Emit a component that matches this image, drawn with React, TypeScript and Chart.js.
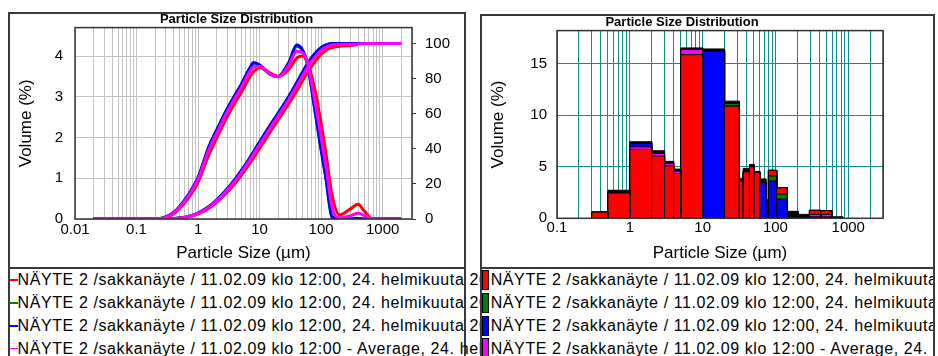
import React, { useEffect, useRef } from 'react';
import { Chart, registerables } from 'chart.js';

Chart.register(...registerables);

const FONT = '"Liberation Sans", Arial, Helvetica, sans-serif';

// ---- Distribution curves (left chart) ----
// particle sizes (µm) where the curves are sampled
const sizes = [0.02, 0.05, 0.1, 0.2, 0.3, 0.4, 0.5, 0.7, 1, 1.5, 2, 3, 4, 5, 7, 8, 10, 15, 20, 30, 40, 50, 60, 80, 100, 120, 150, 200, 300, 400, 500, 700, 1000, 2000];

// volume density (%), left axis
const redDensity = [0, 0, 0, 0, 0.03, 0.13, 0.26, 0.52, 0.9, 1.58, 1.98, 2.52, 2.86, 3.1, 3.5, 3.62, 3.72, 3.58, 3.5, 3.68, 3.95, 4.0, 3.85, 3.15, 2.35, 1.6, 0.6, 0.1, 0.25, 0.36, 0.2, 0, 0, 0];
const greenDensity = [0, 0, 0, 0, 0.05, 0.16, 0.3, 0.6, 1.01, 1.76, 2.16, 2.7, 3.03, 3.28, 3.7, 3.83, 3.78, 3.56, 3.5, 3.84, 4.24, 4.13, 3.8, 2.66, 1.72, 1.0, 0.06, 0, 0, 0.01, 0, 0, 0, 0];
const blueDensity = [0, 0, 0, 0, 0.05, 0.16, 0.3, 0.6, 1.02, 1.78, 2.18, 2.72, 3.05, 3.3, 3.72, 3.84, 3.78, 3.55, 3.5, 3.85, 4.27, 4.15, 3.8, 2.62, 1.7, 0.99, 0.05, 0, 0, 0.01, 0, 0, 0, 0];
const magentaDensity = [0, 0, 0, 0, 0.04, 0.15, 0.28, 0.57, 0.98, 1.7, 2.1, 2.64, 2.98, 3.22, 3.63, 3.74, 3.75, 3.56, 3.49, 3.78, 4.12, 4.08, 3.83, 2.85, 2.0, 1.28, 0.3, 0.03, 0.08, 0.14, 0.09, 0, 0, 0];

// cumulative volume (%), right axis
const redCumulative = [0, 0, 0, 0, 0, 0.15, 0.43, 1.28, 2.92, 6.17, 9.48, 15.38, 20.39, 24.7, 31.88, 34.95, 40.25, 49.82, 56.42, 65.83, 72.93, 78.68, 83.3, 89.81, 93.79, 96.11, 97.7, 98.35, 98.81, 99.38, null, null, null, null];
const greenCumulative = [0, 0, 0, 0, 0, 0.2, 0.52, 1.5, 3.38, 7.05, 10.75, 17.2, 22.6, 27.2, 34.9, 38.2, 43.7, 53.4, 60.0, 69.7, 77.3, 83.4, 88.2, 94.3, 97.5, 99.1, 99.9, 100, 100, 100, 100, 100, 100, 100];
const blueCumulative = [0, 0, 0, 0, 0, 0.2, 0.53, 1.52, 3.41, 7.11, 10.83, 17.3, 22.72, 27.35, 35.05, 38.34, 43.89, 53.58, 60.2, 69.92, 77.54, 83.68, 88.39, 94.42, 97.57, 99.17, 99.92, 99.97, 100, 100, 100, 100, 100, 100];
const magentaCumulative = [0, 0, 0, 0, 0, 0.18, 0.49, 1.42, 3.22, 6.75, 10.3, 16.54, 21.8, 26.3, 33.8, 37.0, 42.4, 52.0, 58.6, 68.2, 75.6, 81.6, 86.2, 92.5, 96.0, 97.9, 99.1, 99.4, 99.5, 99.7, 99.9, 100, 100, 100];

// ---- Histogram (right chart) ----
// size class edges (µm)
const binEdges = [0.3, 0.5, 1, 2, 3, 4, 5, 10, 20, 32, 36, 44, 51, 61, 74, 80, 104, 146, 206, 292, 419, 593, 840];
// volume (%) in each class
const histRed = [0.6, 2.45, 6.68, 6.03, 5.09, 4.35, 15.87, 16.22, 10.87, 3.64, 4.51, 5.0, 4.45, 3.47, 1.77, 4.65, 2.96, 0.05, 0.03, 0.78, 0.75, 0.03];
const histGreen = [0.6, 2.45, 6.68, 6.03, 5.09, 4.35, 15.87, 16.22, 11.13, 3.64, 4.51, 5.0, 4.45, 3.47, 1.77, 4.1, 2.35, 0.05, 0.03, 0.12, 0.12, 0.03];
const histBlue = [0.6, 2.45, 7.26, 6.29, 5.32, 4.58, 16.36, 16.2, 10.87, 3.64, 4.51, 5.0, 4.45, 3.45, 1.75, 3.62, 1.87, 0.05, 0.03, 0.12, 0.12, 0.03];
const histMagenta = [0.6, 2.45, 6.93, 6.29, 5.32, 4.58, 16.36, 16.22, 10.87, 3.64, 4.51, 5.0, 4.45, 3.47, 1.77, 4.65, 2.96, 0.05, 0.03, 0.38, 0.38, 0.03];
const histBlack = [0.6, 2.72, 7.42, 6.55, 5.52, 4.77, 16.52, 16.42, 11.36, 3.87, 4.84, 5.23, 4.55, 3.82, 1.77, 4.65, 2.96, 0.68, 0.38, 0.78, 0.75, 0.15];

// ---- Axes ----
const leftDecades = [0.01, 0.1, 1, 10, 100, 1000];
const rightDecades = [0.1, 1, 10, 100, 1000];
const sizeMax = 3000;
const densityTicks = [0, 1, 2, 3, 4];
const cumulativeTicks = [0, 20, 40, 60, 80, 100];
const histTicks = [0, 5, 10, 15];

// ---- Legend ----
const runLabels = [
  'NÄYTE 2 /sakkanäyte / 11.02.09 klo 12:00, 24. helmikuuta 2009 13:21:07',
  'NÄYTE 2 /sakkanäyte / 11.02.09 klo 12:00, 24. helmikuuta 2009 13:22:38',
  'NÄYTE 2 /sakkanäyte / 11.02.09 klo 12:00, 24. helmikuuta 2009 13:24:09',
  'NÄYTE 2 /sakkanäyte / 11.02.09 klo 12:00 - Average, 24. helmikuuta 2009 13:21:07',
];
const RED = '#ff0000';
const GREEN = '#008000';
const BLUE = '#0000ff';
const MAGENTA = '#ff00ff';
const runColors = [RED, GREEN, BLUE, MAGENTA];

// 1..9 x each decade, up to the axis maximum
function logGrid(decades: number[], max: number) {
  const out: number[] = [];
  for (const d of decades) {
    for (let m = 1; m <= 9; m++) {
      const v = +(d * m).toPrecision(6);
      if (v <= max) out.push(v);
    }
  }
  return out;
}

const setTicks = (values: number[]) => (scale: any) => {
  scale.ticks = values.map((value) => ({ value }));
};

// fixed axis size; edge labels must not push the plot area inwards
const fixSize = (key: 'width' | 'height', size: number) => (s: any) => {
  s[key] = size;
  s.paddingTop = 0;
  s.paddingBottom = 0;
  s.paddingLeft = 0;
  s.paddingRight = 0;
};

const framePlugin = (color: string) => ({
  id: 'plotFrame',
  afterDatasetsDraw(chart: any) {
    const { ctx, chartArea: a } = chart;
    ctx.save();
    ctx.strokeStyle = color;
    ctx.lineWidth = 1.5;
    ctx.strokeRect(a.left, a.top, a.right - a.left, a.bottom - a.top);
    ctx.restore();
  },
});

const tickFont = { family: FONT, size: 15 };
const axisTitleFont = { family: FONT, size: 17 };
const chartTitle = {
  display: true,
  text: 'Particle Size Distribution',
  color: '#000',
  font: { family: FONT, size: 13, weight: 'bold' as const },
  padding: { top: 0, bottom: 0 },
};

function curve(values: (number | null)[], color: string, axis: string, order: number) {
  return {
    data: sizes.map((x, i) => ({ x, y: values[i] })),
    borderColor: color,
    backgroundColor: color,
    borderWidth: 3,
    pointRadius: 0,
    yAxisID: axis,
    order,
    fill: false,
    spanGaps: false,
    cubicInterpolationMode: 'monotone' as const,
  };
}

function leftConfig(): any {
  const xTicks = logGrid(leftDecades, sizeMax);
  return {
    type: 'line',
    data: {
      datasets: [
        curve(magentaDensity, MAGENTA, 'y', 0),
        curve(magentaCumulative, MAGENTA, 'y2', 0),
        curve(redDensity, RED, 'y', 1),
        curve(redCumulative, RED, 'y2', 1),
        curve(blueDensity, BLUE, 'y', 2),
        curve(blueCumulative, BLUE, 'y2', 2),
        curve(greenDensity, GREEN, 'y', 3),
        curve(greenCumulative, GREEN, 'y2', 3),
      ],
    },
    options: {
      responsive: false,
      animation: false,
      events: [],
      layout: { padding: 0 },
      plugins: { legend: { display: false }, tooltip: { enabled: false }, title: chartTitle },
      scales: {
        x: {
          type: 'logarithmic',
          min: 0.01,
          max: sizeMax,
          afterBuildTicks: setTicks(xTicks),
          afterFit: fixSize('height', 49),
          border: { display: false },
          grid: { color: '#c2c2c2', drawTicks: false },
          ticks: {
            autoSkip: false, maxRotation: 0, padding: 2, color: '#000', font: tickFont,
            callback: (v: number) => (leftDecades.includes(v) ? String(v) : ''),
          },
          title: { display: true, text: 'Particle Size (µm)', color: '#000', font: axisTitleFont, padding: { top: 0, bottom: 4.8 } },
        },
        y: {
          position: 'left',
          min: 0,
          max: 4.7,
          afterBuildTicks: setTicks(densityTicks),
          afterFit: fixSize('width', 67),
          border: { display: false },
          grid: { color: '#c2c2c2', drawTicks: false },
          ticks: { padding: 12, color: '#000', font: tickFont, callback: (v: number) => String(v) },
          title: { display: true, text: 'Volume (%)', color: '#000', font: axisTitleFont, padding: { top: 8.5, bottom: 0 } },
        },
        y2: {
          position: 'right',
          min: 0,
          max: 109,
          afterBuildTicks: setTicks(cumulativeTicks),
          afterFit: fixSize('width', 53),
          border: { display: false },
          grid: { drawOnChartArea: false, drawTicks: true, tickLength: 4, color: '#333' },
          ticks: { padding: 9, color: '#000', font: tickFont, callback: (v: number) => String(v) },
        },
      },
    },
    plugins: [framePlugin('#333')],
  };
}

function rightConfig(): any {
  const xTicks = logGrid(rightDecades, sizeMax);
  // equal heights: earlier entries are drawn in front
  const series = [
    { values: histRed, color: RED },
    { values: histMagenta, color: MAGENTA },
    { values: histBlue, color: BLUE },
    { values: histGreen, color: GREEN },
    { values: histBlack, color: '#000000' },
  ];
  const datasets: any[] = [];
  binEdges.slice(0, -1).forEach((lo, i) => {
    const hi = binEdges[i + 1];
    series.forEach((s, p) => {
      const v = s.values[i];
      datasets.push({
        data: [{ x: lo, y: 0 }, { x: lo, y: v }, { x: hi, y: v }, { x: hi, y: 0 }],
        backgroundColor: s.color,
        borderColor: '#000',
        borderWidth: 1,
        fill: 'origin',
        pointRadius: 0,
        tension: 0,
        // taller classes go behind shorter ones
        order: v * 1000 + p,
      });
    });
  });
  return {
    type: 'line',
    data: { datasets },
    options: {
      responsive: false,
      animation: false,
      events: [],
      layout: { padding: { left: 0, right: 51, top: 0, bottom: 0 } },
      plugins: { legend: { display: false }, tooltip: { enabled: false }, title: chartTitle },
      scales: {
        x: {
          type: 'logarithmic',
          min: 0.1,
          max: sizeMax,
          afterBuildTicks: setTicks(xTicks),
          afterFit: fixSize('height', 48.7),
          border: { display: false },
          grid: { color: '#0f8f8f', drawTicks: false },
          ticks: {
            autoSkip: false, maxRotation: 0, padding: 1, color: '#000', font: tickFont,
            callback: (v: number) => (rightDecades.includes(v) ? String(v) : ''),
          },
          title: { display: true, text: 'Particle Size (µm)', color: '#000', font: axisTitleFont, padding: { top: 0, bottom: 3.8 } },
        },
        y: {
          position: 'left',
          min: 0,
          max: 18.2,
          afterBuildTicks: setTicks(histTicks),
          afterFit: fixSize('width', 76),
          border: { display: false },
          grid: { color: '#0f8f8f', drawTicks: false },
          ticks: { padding: 10, color: '#000', font: tickFont, callback: (v: number) => String(v) },
          title: { display: true, text: 'Volume (%)', color: '#000', font: axisTitleFont, padding: { top: 6.8, bottom: 0 } },
        },
      },
    },
    plugins: [framePlugin('#333')],
  };
}

const abs = (s: React.CSSProperties): React.CSSProperties => ({ position: 'absolute', ...s });
const legendText: React.CSSProperties = {
  fontFamily: FONT,
  fontSize: 16,
  letterSpacing: '0.6px',
  lineHeight: '22.8px',
  whiteSpace: 'nowrap',
  color: '#000',
};

export default function App() {
  const leftRef = useRef<HTMLCanvasElement>(null);
  const rightRef = useRef<HTMLCanvasElement>(null);

  useEffect(() => {
    const left = new Chart(leftRef.current as HTMLCanvasElement, leftConfig());
    const right = new Chart(rightRef.current as HTMLCanvasElement, rightConfig());
    return () => {
      left.destroy();
      right.destroy();
    };
  }, []);

  return (
    <div style={abs({ left: 0, top: 0, width: 938, height: 356, overflow: 'hidden', background: '#fff' })}>
      {/* left panel */}
      <div style={abs({ left: 8, top: 12, width: 458, height: 380, border: '2px solid #3a3a3a', boxSizing: 'border-box' })} />
      <div style={abs({ left: 8, top: 267, width: 458, height: 2, background: '#3a3a3a' })} />
      {runLabels.map((label, i) => (
        <div key={'l' + i} style={abs({ left: 0, top: 269.3 + i * 22.8, height: 22.8 })}>
          <div style={abs({ left: 9, top: 10.2, width: 9, height: 1.5, background: runColors[i] })} />
          <div style={{ ...legendText, position: 'absolute', left: 17.5, top: 0 }}>{label}</div>
        </div>
      ))}
      <canvas ref={leftRef} width={457} height={256} style={abs({ left: 8, top: 12, width: 457, height: 256 })} />

      {/* right panel */}
      <div style={abs({ left: 480, top: 14, width: 455, height: 380, border: '2px solid #3a3a3a', boxSizing: 'border-box', background: '#fff', overflow: 'hidden' })}>
        <div style={abs({ left: 0, top: 251, width: 455, height: 2, background: '#3a3a3a' })} />
        {runLabels.map((label, i) => (
          <div key={'r' + i} style={abs({ left: 0, top: 253.3 + i * 22.8, height: 22.8 })}>
            <div style={abs({ left: 0, top: 0.8, width: 7, height: 20, background: runColors[i], border: '1px solid #000', boxSizing: 'border-box' })} />
            <div style={{ ...legendText, position: 'absolute', left: 8.7, top: 0 }}>{label}</div>
          </div>
        ))}
      </div>
      <canvas ref={rightRef} width={453} height={252} style={abs({ left: 481, top: 15, width: 453, height: 252 })} />
    </div>
  );
}
